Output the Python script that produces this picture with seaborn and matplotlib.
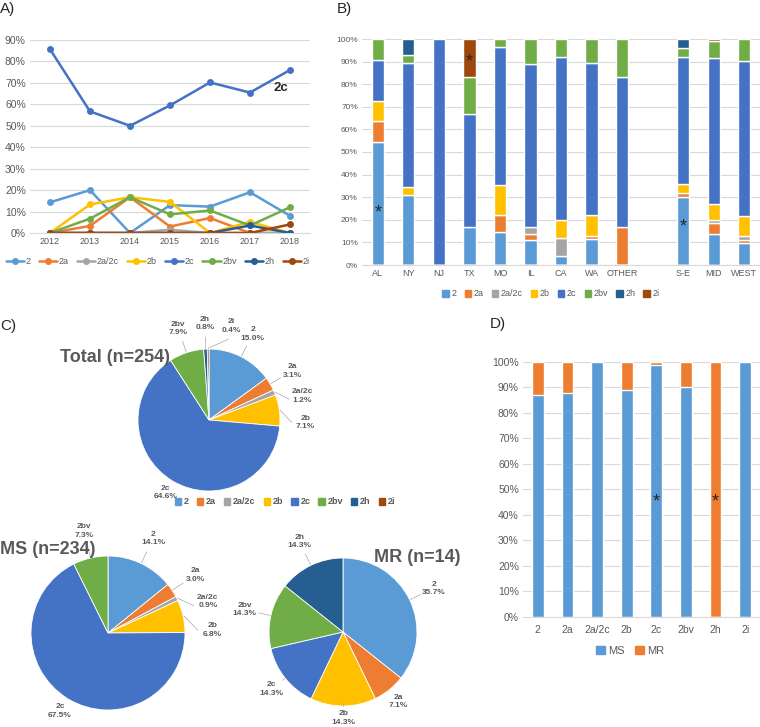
import numpy as np
import pandas as pd
import seaborn as sns
import matplotlib.pyplot as plt
from matplotlib.ticker import FuncFormatter
from matplotlib.lines import Line2D
from matplotlib.patches import Patch

W, H = 760, 727

genotypes = ["2", "2a", "2a/2c", "2b", "2c", "2bv", "2h", "2i"]
colors = ["#5B9BD5", "#ED7D31", "#A5A5A5", "#FFC000", "#4472C4", "#70AD47", "#255E91", "#9E480E"]

# A) yearly trend (%)
years = [2012, 2013, 2014, 2015, 2016, 2017, 2018]
yr_2 = [14.3, 20.0, 0.0, 13.0, 12.3, 19.0, 8.0]
yr_2a = [0.0, 3.3, 16.7, 3.0, 7.0, 0.0, 0.0]
yr_2a2c = [0.0, 0.0, 0.0, 1.5, 0.0, 0.0, 0.0]
yr_2b = [0.0, 13.3, 16.7, 14.5, 0.0, 5.2, 0.0]
yr_2c = [85.7, 56.7, 50.0, 59.5, 70.2, 65.5, 76.0]
yr_2bv = [0.0, 6.7, 16.7, 8.7, 10.5, 3.5, 12.0]
yr_2h = [0.0, 0.0, 0.0, 0.0, 0.0, 3.5, 0.0]
yr_2i = [0.0, 0.0, 0.0, 0.0, 0.0, 0.0, 4.0]

# B) by state / region (%)
sites = ["AL", "NY", "NJ", "TX", "MO", "IL", "CA", "WA", "OTHER", "S-E", "MID", "WEST"]
st_2 = [54.5, 31.0, 0, 16.7, 14.8, 11.1, 4.0, 11.5, 0, 30.0, 13.5, 9.7]
st_2a = [9.1, 0, 0, 0, 7.4, 2.8, 0, 1.5, 16.7, 2.0, 5.0, 1.2]
st_2a2c = [0, 0, 0, 0, 0, 2.8, 8.0, 0, 0, 0, 1.2, 1.8]
st_2b = [9.1, 3.4, 0, 0, 13.0, 0, 8.0, 9.0, 0, 4.0, 7.3, 9.0]
st_2c = [18.2, 55.2, 100, 50.0, 61.1, 72.2, 72.0, 67.5, 66.7, 56.0, 64.5, 68.5]
st_2bv = [9.1, 3.4, 0, 16.7, 3.7, 11.1, 8.0, 10.5, 16.6, 4.0, 7.5, 9.8]
st_2h = [0, 6.9, 0, 0, 0, 0, 0, 0, 0, 4.0, 0, 0]
st_2i = [0, 0, 0, 16.6, 0, 0, 0, 0, 0, 0, 1.0, 0]

# C) pies (%)
pie_total = [15.0, 3.1, 1.2, 7.1, 64.6, 7.9, 0.8, 0.4]
pie_ms = [14.1, 3.0, 0.9, 6.8, 67.5, 7.3, 0, 0]
pie_mr = [35.7, 7.1, 0, 14.3, 14.3, 14.3, 14.3, 0]

# D) MS / MR share per genotype (%)
share_ms = [87.0, 87.5, 100, 89.0, 98.5, 90.0, 0, 100]
share_mr = [13.0, 12.5, 0, 11.0, 1.5, 10.0, 100, 0]

GRAY = "#595959"
GRID = "#D9D9D9"

sns.set_style("white")
plt.rcParams["font.family"] = ["Liberation Sans", "DejaVu Sans"]

fig = plt.figure(figsize=(W / 100, H / 100), dpi=100)


def box(x0, y0, x1, y1):
    return [x0 / W, 1 - y1 / H, (x1 - x0) / W, (y1 - y0) / H]


def fpos(x, y):
    return x / W, 1 - y / H


pct = FuncFormatter(lambda v, p: f"{v:.0f}%")


def style_axes(ax, size):
    for s in ["top", "right", "left"]:
        ax.spines[s].set_visible(False)
    ax.spines["bottom"].set_color(GRID)
    ax.yaxis.grid(True, color=GRID, lw=0.8)
    ax.set_axisbelow(True)
    ax.tick_params(length=0, labelsize=size, colors=GRAY, pad=3)
    ax.yaxis.set_major_formatter(pct)
    ax.set_xlabel("")
    ax.set_ylabel("")


# ---- A
ax_a = fig.add_axes(box(30, 40, 310, 233))
trend = pd.DataFrame({"year": years, "2": yr_2, "2a": yr_2a, "2a/2c": yr_2a2c, "2b": yr_2b,
                      "2c": yr_2c, "2bv": yr_2bv, "2h": yr_2h, "2i": yr_2i})
trend_long = trend.melt(id_vars="year", var_name="genotype", value_name="pct")
sns.lineplot(data=trend_long, x="year", y="pct", hue="genotype", hue_order=genotypes,
             palette=colors, marker="o", markersize=5, markeredgewidth=0, linewidth=1.8,
             ax=ax_a, legend=False)
ax_a.set_xlim(2011.5, 2018.5)
ax_a.set_ylim(0, 90)
ax_a.set_yticks(range(0, 91, 10))
ax_a.set_xticks(years)
style_axes(ax_a, 7.5)
ax_a.tick_params(axis="x", labelsize=6.5)
ax_a.text(2017.78, 67.6, "2c", fontsize=9.5, fontweight="bold", ha="center", va="center")
handles_a = [Line2D([0], [0], color=c, marker="o", markersize=4, lw=1.8, label=g)
             for g, c in zip(genotypes, colors)]
fig.legend(handles=handles_a, loc="center", bbox_to_anchor=fpos(158, 262), ncol=8,
           frameon=False, fontsize=6.5, handlelength=2.0, handletextpad=0.2,
           columnspacing=0.9, labelcolor=GRAY)
fig.text(*fpos(0, 9), "A)", fontsize=11, va="center")

# ---- B
ax_b = fig.add_axes(box(362, 39, 760, 265))
sites_df = pd.DataFrame({"2": st_2, "2a": st_2a, "2a/2c": st_2a2c, "2b": st_2b, "2c": st_2c,
                         "2bv": st_2bv, "2h": st_2h, "2i": st_2i}, index=sites)
gap_df = pd.concat([sites_df.iloc[:9], pd.DataFrame(0.0, index=[""], columns=genotypes),
                    sites_df.iloc[9:]])
gap_df.plot.bar(stacked=True, ax=ax_b, color=colors, width=0.4, legend=False)
ax_b.set_xlim(-0.52, 12.52)
ax_b.set_ylim(0, 100)
ax_b.set_yticks(range(0, 101, 10))
style_axes(ax_b, 6)
ax_b.tick_params(axis="x", rotation=0, labelsize=6.5)
star_b = {"AL": 23, "TX": 90, "S-E": 17}
for site, yv in star_b.items():
    ax_b.text(list(gap_df.index).index(site), yv, "*", ha="center", va="center", fontsize=13)
handles_sq = [Patch(color=c, label=g) for g, c in zip(genotypes, colors)]
fig.legend(handles=handles_sq, loc="center", bbox_to_anchor=fpos(551, 294), ncol=8,
           frameon=False, fontsize=6.5, handlelength=0.7, handleheight=0.7,
           handletextpad=0.3, columnspacing=0.9, labelcolor=GRAY)
fig.text(*fpos(337, 9), "B)", fontsize=11, va="center")

# ---- C
def draw_pie(cx, cy, r, values, title, title_xy, title_ha="center"):
    ax = fig.add_axes(box(cx - r, cy - r, cx + r, cy + r))
    names = [g for g, v in zip(genotypes, values) if v > 0]
    cols = [c for c, v in zip(colors, values) if v > 0]
    vals = [v for v in values if v > 0]
    wedges, _ = ax.pie(vals, colors=cols, startangle=90, counterclock=False, radius=1,
                       wedgeprops=dict(edgecolor="white", linewidth=0.6))
    ax.set_xlim(-1, 1)
    ax.set_ylim(-1, 1)
    ax.set_aspect("equal")
    prev = -99
    for w, name, v in zip(wedges, names, vals):
        mid = (w.theta1 + w.theta2) / 2
        cw = (90 - mid) % 360
        lab = max(cw, prev + 16)
        prev = lab
        m, a = np.radians(cw), np.radians(lab)
        dist = 1.36 - 0.2 * max(0.0, -np.cos(a))
        ax.plot([np.sin(m) * 1.01, np.sin(a) * (dist - 0.19)],
                [np.cos(m) * 1.01, np.cos(a) * (dist - 0.19)],
                color="#A6A6A6", lw=0.5, clip_on=False)
        ax.text(np.sin(a) * dist, np.cos(a) * dist, f"{name}\n{v:.1f}%", ha="center",
                va="center", fontsize=6, fontweight="bold", color=GRAY, linespacing=1.3)
    fig.text(*fpos(*title_xy), title, fontsize=13, fontweight="bold", color=GRAY,
             ha=title_ha, va="center")


draw_pie(209, 420, 71, pie_total, "Total (n=254)", (115, 358))
draw_pie(108, 633, 77, pie_ms, "MS (n=234)", (0, 550), "left")
draw_pie(343, 632, 74, pie_mr, "MR (n=14)", (417, 558))
fig.legend(handles=handles_sq, loc="center", bbox_to_anchor=fpos(285, 502), ncol=8,
           frameon=False, handlelength=0.7, handleheight=0.7,
           handletextpad=0.3, columnspacing=0.9, labelcolor=GRAY,
           prop=dict(weight="bold", size=6.5))
fig.text(*fpos(0, 326), "C)", fontsize=11, va="center")

# ---- D
ax_d = fig.add_axes(box(523, 361.5, 760, 617))
share = pd.DataFrame({"genotype": genotypes, "MS": share_ms, "MR": share_mr})
share["stack"] = share["MS"] + share["MR"]
sns.barplot(data=share, x="genotype", y="stack", color="#ED7D31", saturation=1, width=0.4, ax=ax_d)
sns.barplot(data=share, x="genotype", y="MS", color="#5B9BD5", saturation=1, width=0.4, ax=ax_d)
ax_d.set_xlim(-0.5, 7.5)
ax_d.set_ylim(0, 100)
ax_d.set_yticks(range(0, 101, 10))
style_axes(ax_d, 7.5)
ax_d.tick_params(axis="x", labelsize=7.5, pad=6)
for g in ["2c", "2h"]:
    ax_d.text(genotypes.index(g), 45, "*", ha="center", va="center", fontsize=13)
fig.legend(handles=[Patch(color="#5B9BD5", label="MS"), Patch(color="#ED7D31", label="MR")],
           loc="center", bbox_to_anchor=fpos(630, 651), ncol=2, frameon=False, fontsize=8,
           handlelength=0.8, handleheight=0.8, handletextpad=0.3, columnspacing=0.9,
           labelcolor=GRAY)
fig.text(*fpos(490, 324), "D)", fontsize=11, va="center")

fig.savefig("out.png", dpi=100)
